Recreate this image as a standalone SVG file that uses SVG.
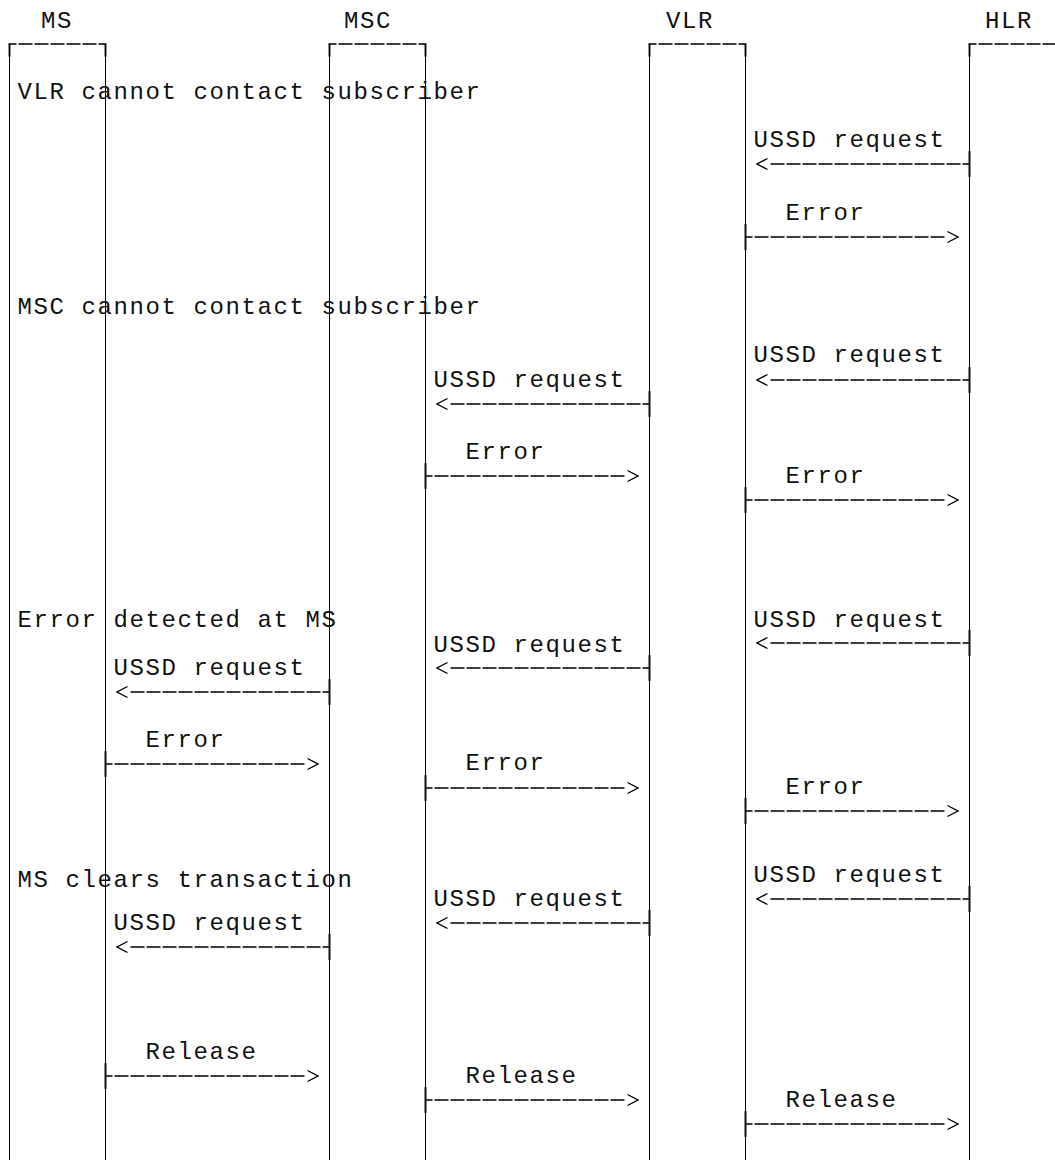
<svg xmlns="http://www.w3.org/2000/svg" width="1055" height="1160" viewBox="0 0 1055 1160">
<style>
  text { font-family: "Liberation Mono", "DejaVu Sans Mono", monospace; font-size: 24px; letter-spacing: 1.6px; fill: #111; }
  .life { stroke: #000; stroke-width: 1; fill: none; }
  .bar { stroke: #000; stroke-width: 1.7; stroke-dasharray: 14 2; stroke-dashoffset: 7; fill: none; }
  .corner { stroke: #222; stroke-width: 2; fill: none; }
  .msg { stroke: #000; stroke-width: 1.6; stroke-dasharray: 14 2; stroke-dashoffset: 7; fill: none; marker-end: url(#ah); }
  .tick { stroke: #111; stroke-width: 2; fill: none; }
</style>
<defs>
  <marker id="ah" markerUnits="userSpaceOnUse" markerWidth="20" markerHeight="14" viewBox="0 0 20 14" refX="0" refY="7" orient="auto" overflow="visible">
    <path d="M3,1.5 L13.5,7 L3,12.5" fill="none" stroke="#000" stroke-width="1.4"/>
  </marker>
</defs>
<rect width="1055" height="1160" fill="#fff"/>

<g id="MS">
  <text x="41" y="28">MS</text>
  <line class="bar" x1="9.5" y1="44" x2="105.5" y2="44"/>
  <line class="corner" x1="9.5" y1="43" x2="9.5" y2="57"/>
  <line class="corner" x1="105.5" y1="43" x2="105.5" y2="57"/>
  <line class="life" x1="9.5" y1="44" x2="9.5" y2="1160"/>
  <line class="life" x1="105.5" y1="44" x2="105.5" y2="1160"/>
</g>
<g id="MSC">
  <text x="344" y="28">MSC</text>
  <line class="bar" x1="329.5" y1="44" x2="425.5" y2="44"/>
  <line class="corner" x1="329.5" y1="43" x2="329.5" y2="57"/>
  <line class="corner" x1="425.5" y1="43" x2="425.5" y2="57"/>
  <line class="life" x1="329.5" y1="44" x2="329.5" y2="1160"/>
  <line class="life" x1="425.5" y1="44" x2="425.5" y2="1160"/>
</g>
<g id="VLR">
  <text x="666" y="28">VLR</text>
  <line class="bar" x1="649.5" y1="44" x2="745.5" y2="44"/>
  <line class="corner" x1="649.5" y1="43" x2="649.5" y2="57"/>
  <line class="corner" x1="745.5" y1="43" x2="745.5" y2="57"/>
  <line class="life" x1="649.5" y1="44" x2="649.5" y2="1160"/>
  <line class="life" x1="745.5" y1="44" x2="745.5" y2="1160"/>
</g>
<g id="HLR">
  <text x="985" y="28">HLR</text>
  <line class="bar" x1="969.5" y1="44" x2="1055" y2="44"/>
  <line class="corner" x1="969.5" y1="43" x2="969.5" y2="57"/>
  <line class="life" x1="969.5" y1="44" x2="969.5" y2="1160"/>
</g>

<g id="headings">
  <text x="17.5" y="99">VLR cannot contact subscriber</text>
  <text x="17.5" y="314">MSC cannot contact subscriber</text>
  <text x="17.5" y="627">Error detected at MS</text>
  <text x="17.5" y="887">MS clears transaction</text>
</g>

<g id="connectors">
  <!-- section 1 -->
  <line class="msg" x1="969.5" y1="164" x2="770.5" y2="164"/><line class="tick" x1="969.5" y1="151" x2="969.5" y2="177"/>
  <line class="msg" x1="745.5" y1="237" x2="944.5" y2="237"/><line class="tick" x1="745.5" y1="224" x2="745.5" y2="250"/>
  <!-- section 2 -->
  <line class="msg" x1="969.5" y1="380" x2="770.5" y2="380"/><line class="tick" x1="969.5" y1="367" x2="969.5" y2="393"/>
  <line class="msg" x1="649.5" y1="404" x2="450.5" y2="404"/><line class="tick" x1="649.5" y1="391" x2="649.5" y2="417"/>
  <line class="msg" x1="425.5" y1="476" x2="624.5" y2="476"/><line class="tick" x1="425.5" y1="463" x2="425.5" y2="489"/>
  <line class="msg" x1="745.5" y1="500" x2="944.5" y2="500"/><line class="tick" x1="745.5" y1="487" x2="745.5" y2="513"/>
  <!-- section 3 -->
  <line class="msg" x1="969.5" y1="643" x2="770.5" y2="643"/><line class="tick" x1="969.5" y1="630" x2="969.5" y2="656"/>
  <line class="msg" x1="649.5" y1="668" x2="450.5" y2="668"/><line class="tick" x1="649.5" y1="655" x2="649.5" y2="681"/>
  <line class="msg" x1="329.5" y1="692" x2="130.5" y2="692"/><line class="tick" x1="329.5" y1="679" x2="329.5" y2="705"/>
  <line class="msg" x1="105.5" y1="764" x2="304.5" y2="764"/><line class="tick" x1="105.5" y1="751" x2="105.5" y2="777"/>
  <line class="msg" x1="425.5" y1="788" x2="624.5" y2="788"/><line class="tick" x1="425.5" y1="775" x2="425.5" y2="801"/>
  <line class="msg" x1="745.5" y1="811" x2="944.5" y2="811"/><line class="tick" x1="745.5" y1="798" x2="745.5" y2="824"/>
  <!-- section 4 -->
  <line class="msg" x1="969.5" y1="899" x2="770.5" y2="899"/><line class="tick" x1="969.5" y1="886" x2="969.5" y2="912"/>
  <line class="msg" x1="649.5" y1="923" x2="450.5" y2="923"/><line class="tick" x1="649.5" y1="910" x2="649.5" y2="936"/>
  <line class="msg" x1="329.5" y1="947" x2="130.5" y2="947"/><line class="tick" x1="329.5" y1="934" x2="329.5" y2="960"/>
  <line class="msg" x1="105.5" y1="1076" x2="304.5" y2="1076"/><line class="tick" x1="105.5" y1="1063" x2="105.5" y2="1089"/>
  <line class="msg" x1="425.5" y1="1100" x2="624.5" y2="1100"/><line class="tick" x1="425.5" y1="1087" x2="425.5" y2="1113"/>
  <line class="msg" x1="745.5" y1="1124" x2="944.5" y2="1124"/><line class="tick" x1="745.5" y1="1111" x2="745.5" y2="1137"/>
</g>

<g id="labels">
  <text x="753.5" y="147">USSD request</text>
  <text x="785.5" y="220">Error</text>
  <text x="753.5" y="362">USSD request</text>
  <text x="433.5" y="387">USSD request</text>
  <text x="465.5" y="459">Error</text>
  <text x="785.5" y="483">Error</text>
  <text x="753.5" y="627">USSD request</text>
  <text x="433.5" y="652">USSD request</text>
  <text x="113.5" y="675">USSD request</text>
  <text x="145.5" y="747">Error</text>
  <text x="465.5" y="770">Error</text>
  <text x="785.5" y="794">Error</text>
  <text x="753.5" y="882">USSD request</text>
  <text x="433.5" y="906">USSD request</text>
  <text x="113.5" y="930">USSD request</text>
  <text x="145.5" y="1059">Release</text>
  <text x="465.5" y="1083">Release</text>
  <text x="785.5" y="1107">Release</text>
</g>
</svg>
